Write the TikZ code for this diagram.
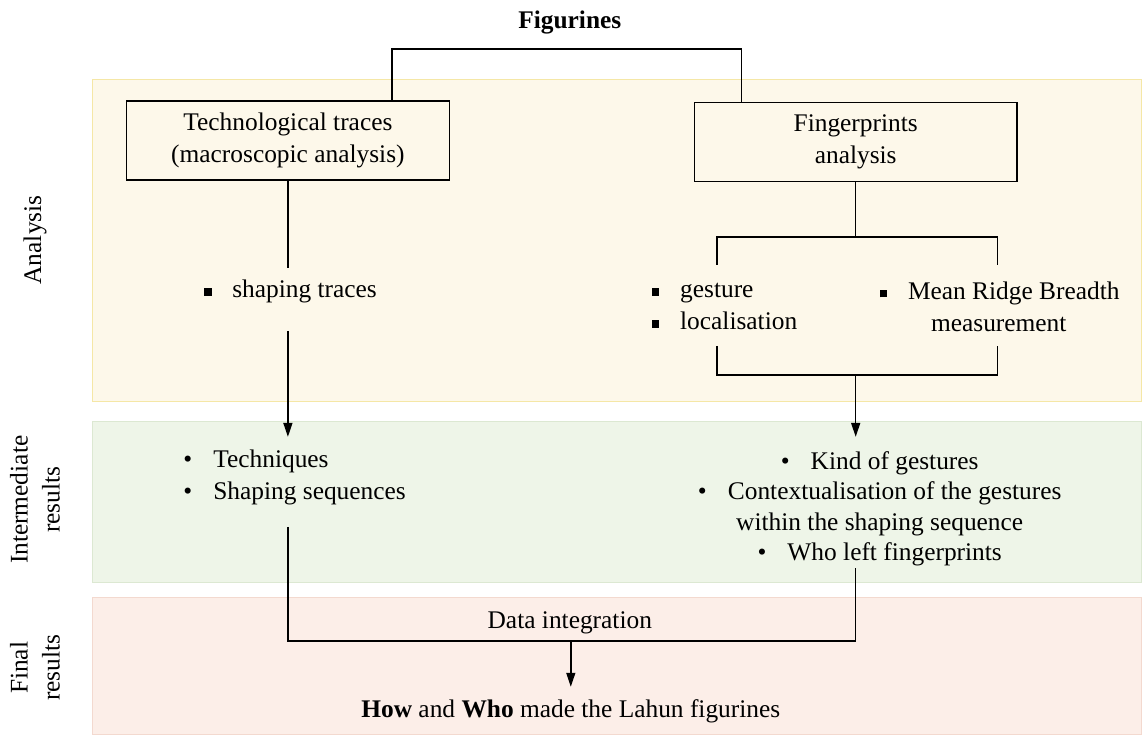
\documentclass[tikz,border=0pt]{standalone}
\usepackage{fontspec}
\setmainfont{Liberation Serif}
\usetikzlibrary{arrows.meta}

\definecolor{bandyel}{HTML}{FDF8EA}
\definecolor{bandyelline}{HTML}{F5E7A6}
\definecolor{bandgrn}{HTML}{EEF5E8}
\definecolor{bandgrnline}{HTML}{DCE8D2}
\definecolor{bandpnk}{HTML}{FCEEE8}
\definecolor{bandpnkline}{HTML}{F3D9CF}

\newcommand{\sqitem}{\makebox[14pt][l]{\raisebox{0.2ex}{\rule{3.6pt}{3.6pt}}}}
\newcommand{\dotitem}{\makebox[15pt][l]{\textbullet}}

\begin{document}
\begin{tikzpicture}[x=0.5pt, y=-0.5pt,
    every node/.style={font=\fontsize{12.7}{16}\selectfont},
    stepbox/.style={draw, line width=0.75pt, minimum width=161.5pt, minimum height=39.5pt, align=center, inner sep=2pt},
    listtxt/.style={anchor=west, align=left, inner sep=0pt},
    link/.style={line width=0.75pt},
    arr/.style={link, -{Stealth[length=7pt, width=4.5pt, inset=0pt]}},
    side/.style={rotate=90, align=center}]

    % bands
    \fill[white] (0,0) rectangle (1142,735);
    \filldraw[fill=bandyel, draw=bandyelline] (92,79) rectangle (1142,402);
    \filldraw[fill=bandgrn, draw=bandgrnline] (92,422) rectangle (1142,583);
    \filldraw[fill=bandpnk, draw=bandpnkline] (92,598) rectangle (1142,735);

    \node[side] (lana) at (35,240) {Analysis};
    \node[side] (linter) at (35,500) {Intermediate\\results};
    \node[side] (lfinal) at (35,668) {Final\\results};

    % analysis
    \node[font=\fontsize{12.7}{16}\selectfont\bfseries] (fig) at (570,22) {Figurines};
    \node[stepbox] (tech) at (288,140.5) {Technological traces\\(macroscopic analysis)};
    \node[stepbox] (finger) at (856,142) {Fingerprints\\analysis};

    \node[listtxt] (shapetr) at (204,292) {\sqitem shaping traces};
    \node[listtxt] (gestloc) at (652,307) {\sqitem gesture\\\sqitem localisation};
    \node[listtxt] (mrb) at (880,307) {\sqitem Mean Ridge Breadth\\\hspace*{25.5pt}measurement};

    % intermediate results
    \node[listtxt] (techres) at (183,478) {\dotitem Techniques\\\dotitem Shaping sequences};
    \node[align=center, inner sep=0pt, font=\fontsize{12.7}{15.3}\selectfont] (gestres) at (880,509)
        {\dotitem Kind of gestures\\\dotitem Contextualisation of the gestures\\within the shaping sequence\\\dotitem Who left fingerprints};

    % final results
    \node (dataint) at (570,623) {Data integration};
    \node (howwho) at (571,712) {\textbf{How} and \textbf{Who} made the Lahun figurines};

    \coordinate (top) at (567,49);
    \draw[link] ([xshift=52pt]tech.north) |- (top) -| ([xshift=-57pt]finger.north);

    \coordinate (techend) at (288,268);
    \coordinate (techgo) at (288,331);
    \coordinate (techin) at (288,437);
    \draw[link] (tech.south) -- (techend);
    \draw[arr] (techgo) -- (techin);

    \coordinate (split) at (856,237);
    \coordinate (forkl) at (717,265);
    \coordinate (forkr) at (998,265);
    \draw[link] (finger.south) -- (split);
    \draw[link] (forkl) |- (split) -| (forkr);

    \coordinate (joinl) at (717,346);
    \coordinate (joinr) at (998,346);
    \coordinate (join) at (856,375);
    \coordinate (gestin) at (856,437);
    \draw[link] (joinl) |- (join) -| (joinr);
    \draw[arr] (join) -- (gestin);

    \coordinate (techout) at (288,527);
    \coordinate (gestout) at (856,568);
    \coordinate (merge) at (571,641);
    \coordinate (howin) at (571,687);
    \draw[link] (techout) |- (merge) -| (gestout);
    \draw[arr] (merge) -- (howin);

\end{tikzpicture}
\end{document}
